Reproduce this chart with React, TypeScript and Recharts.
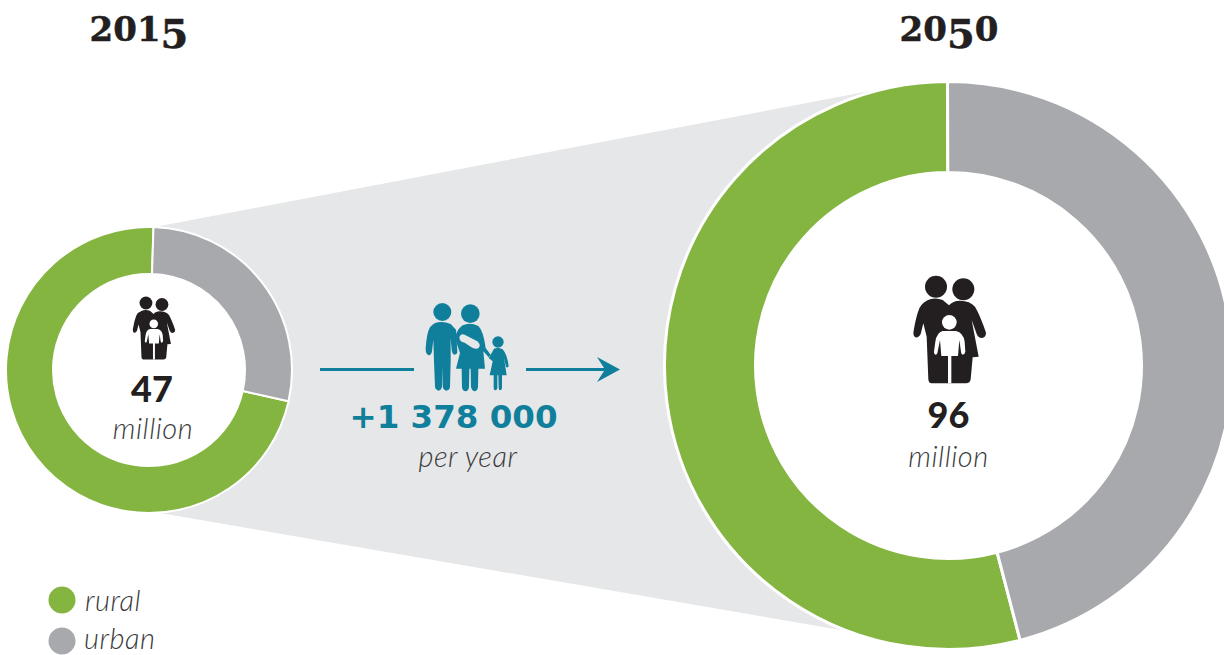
import React from 'react';
import { PieChart, Pie, Cell } from 'recharts';

const categories = ['rural', 'urban'];
const shares2015 = [72, 28];
const shares2050 = [54, 46];
const years = ['2015', '2050'];
const totals = ['47', '96'];

const GREEN = '#84B541';
const GREY = '#A7A9AC';
const BAND = '#E6E7E8';
const TEAL = '#0F7F9B';
const INK = '#231F20';
const COLORS = [GREEN, GREY];

const rows = (values: number[]) =>
  categories.map((name, i) => ({ name, value: values[i] }));

const lightItalic: React.CSSProperties = {
  fontFamily: 'Lato, sans-serif',
  fontStyle: 'italic',
  fontWeight: 300,
  fontSize: 29,
  letterSpacing: 0.5,
  fill: '#3A3A3C',
};

const yearStyle: React.CSSProperties = {
  fontFamily: '"DejaVu Serif", serif',
  fontWeight: 700,
  fontSize: 34,
  fill: INK,
  stroke: INK,
  strokeWidth: 0.5,
};

const totalStyle: React.CSSProperties = {
  fontFamily: 'Lato, sans-serif',
  fontWeight: 900,
  fontSize: 36,
  fill: INK,
};

// the 5 hangs below the line like an old-style figure
const YearLabel = ({ x, label }: { x: number; label: string }) => {
  let offset = 0;
  return (
    <text x={x} y={41} textAnchor="middle" style={yearStyle}>
      {label.split('').map((ch, i) => {
        const next = ch === '5' ? 7 : 0;
        const dy = next - offset;
        offset = next;
        return (
          <tspan key={i} dy={dy} fontSize={ch === '5' ? 40 : undefined}>
            {ch}
          </tspan>
        );
      })}
    </text>
  );
};

// parents with a child in front, drawn in a 3x grid
const Couple = ({ x, y, s }: { x: number; y: number; s: number }) => (
  <g transform={`translate(${x} ${y}) scale(${s})`}>
    <circle cx={168} cy={80} r={33} fill={INK} />
    <circle cx={250} cy={88} r={33} fill={INK} />
    <path
      fill={INK}
      d="M150,118 Q168,112 188,120 L207,136 Q218,122 240,122 Q270,122 285,140 Q300,165 318,218 Q318,232 305,234 Q295,234 290,222 L275,180 L296,290 L278,292 L272,358 Q270,370 258,370 L155,370 Q146,370 145,358 L140,230 L130,190 L122,222 Q116,234 106,232 Q98,226 101,212 Q108,170 118,145 Q128,125 150,118Z"
    />
    <circle cx={208} cy={187} r={22} fill="#fff" />
    <path
      fill="#fff"
      d="M188,213 L228,213 Q250,218 254,245 L256,275 Q254,284 248,284 Q243,282 243,275 L238,240 L234,288 L214,288 L214,370 L204,370 L204,288 L184,288 L180,240 L173,275 Q172,282 168,284 Q162,284 162,275 L166,245 Q170,218 188,213Z"
    />
  </g>
);

const Family = ({ x, y }: { x: number; y: number }) => (
  <g transform={`translate(${x} ${y}) scale(${1 / 3})`} fill={TEAL}>
    <circle cx={67} cy={42} r={27} />
    <path d="M45,75 Q68,68 92,78 L108,95 L112,160 Q112,170 104,170 Q96,168 95,155 L92,120 L92,190 L90,268 Q88,278 78,278 Q70,276 68,265 L68,205 L66,265 Q64,278 55,278 Q46,276 45,268 L42,190 L40,125 L36,160 Q34,172 26,172 Q16,168 17,150 Q20,105 30,88 Q36,80 45,75Z" />
    <circle cx={151} cy={47} r={28} />
    <path d="M128,82 Q150,72 175,84 Q190,98 197,150 L212,170 L206,178 L190,160 L195,212 L175,212 L174,268 Q172,280 163,280 Q155,278 153,268 L152,212 L148,212 L147,268 Q145,280 136,280 Q127,278 126,268 L125,212 L108,212 L120,165 L105,120 Q110,95 128,82Z" />
    <circle cx={234} cy={132} r={17} />
    <path d="M222,152 Q234,147 248,154 Q262,170 266,205 Q264,210 258,207 L252,180 L260,232 L246,232 L246,270 Q245,277 240,277 Q236,277 236,270 L235,232 L232,232 L232,270 Q231,277 226,277 Q221,277 221,270 L221,232 L209,232 L218,190 L206,180 L212,170Z" />
    <path
      fill={BAND}
      d="M118,118 Q122,106 134,110 L172,130 Q184,140 176,150 Q166,156 152,146 L134,134 Q118,132 118,118Z"
    />
  </g>
);

export default function App() {
  return (
    <div style={{ position: 'absolute', left: 0, top: 0, width: 1224, height: 655, overflow: 'hidden' }}>
      <PieChart width={1224} height={655} margin={{ top: 0, right: 0, bottom: 0, left: 0 }}>
        <polygon points="160,226 870,91 870,635 160,513" fill={BAND} />
        <circle cx={149} cy={370} r={100} fill="#fff" />
        <circle cx={948} cy={366} r={200} fill="#fff" />

        <Pie
          data={rows(shares2015)}
          dataKey="value"
          nameKey="name"
          cx={149}
          cy={370}
          innerRadius={96}
          outerRadius={143}
          startAngle={-12.6}
          endAngle={-372.6}
          stroke="#fff"
          strokeWidth={2}
          isAnimationActive={false}
        >
          {categories.map((name, i) => (
            <Cell key={name} fill={COLORS[i]} />
          ))}
        </Pie>
        <Pie
          data={rows(shares2050)}
          dataKey="value"
          nameKey="name"
          cx={948.5}
          cy={365.5}
          innerRadius={193}
          outerRadius={284}
          startAngle={-75.4}
          endAngle={-435.4}
          stroke="#fff"
          strokeWidth={3}
          isAnimationActive={false}
        >
          {categories.map((name, i) => (
            <Cell key={name} fill={COLORS[i]} />
          ))}
        </Pie>

        <YearLabel x={139} label={years[0]} />
        <YearLabel x={949} label={years[1]} />

        <Couple x={113.2} y={287.4} s={0.195} />
        <text x={152} y={402} textAnchor="middle" style={totalStyle}>
          {totals[0]}
        </text>
        <text x={153} y={439} textAnchor="middle" style={lightItalic}>
          million
        </text>

        <Couple x={880} y={260} s={1 / 3} />
        <text x={948.5} y={428} textAnchor="middle" style={totalStyle}>
          {totals[1]}
        </text>
        <text x={948.5} y={467} textAnchor="middle" style={lightItalic}>
          million
        </text>

        <Family x={420} y={298} />
        <line x1={320} y1={369.5} x2={414} y2={369.5} stroke={TEAL} strokeWidth={3} />
        <line x1={526} y1={369.5} x2={606} y2={369.5} stroke={TEAL} strokeWidth={3} />
        <polygon points="597,357 620,369.5 597,382 605,369.5" fill={TEAL} />
        <text
          x={453.5}
          y={428}
          textAnchor="middle"
          style={{ fontFamily: '"DejaVu Sans", sans-serif', fontWeight: 700, fontSize: 32.5, fill: TEAL }}
        >
          +1 378 000
        </text>
        <text x={468} y={467} textAnchor="middle" style={lightItalic}>
          per year
        </text>

        <circle cx={62} cy={600} r={13.5} fill={GREEN} />
        <circle cx={62} cy={641} r={13.5} fill={GREY} />
        <text x={85} y={611} style={lightItalic}>
          {categories[0]}
        </text>
        <text x={84} y={649} style={lightItalic}>
          {categories[1]}
        </text>
      </PieChart>
    </div>
  );
}
